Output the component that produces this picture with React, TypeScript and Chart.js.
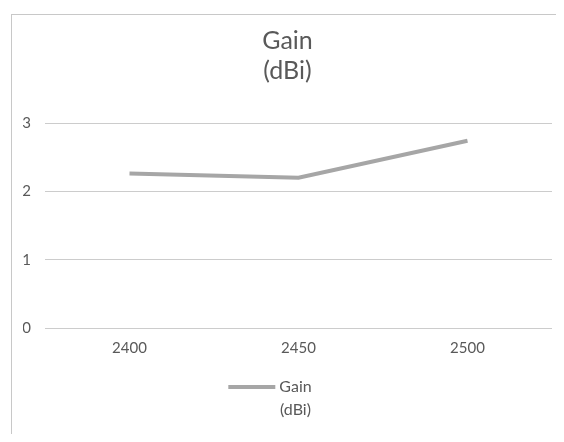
import React, { useEffect, useRef } from "react";
import { Chart, registerables } from "chart.js";

Chart.register(...registerables);

const categories = ["2400", "2450", "2500"];
const gainValues = [2.26, 2.2, 2.74];
const seriesLabel = ["Gain", "(dBi)"];
const titleLines = ["Gain", "(dBi)"];
const yTicks = [0, 1, 2, 3];

const FONT = "Lato, 'Open Sans', sans-serif";
const TEXT = "#595959";
const LINE = "#a6a6a6";

const legendPlugin = {
  id: "multiLegend",
  afterDraw(chart: any) {
    const ctx = chart.ctx;
    const ds = chart.data.datasets[0];
    const lines: string[] = ds.label.split("\n");
    const cx = (chart.chartArea.left + chart.chartArea.right) / 2;
    const y0 = chart.height - 47;
    ctx.save();
    ctx.font = `16px ${FONT}`;
    ctx.fillStyle = TEXT;
    ctx.textBaseline = "middle";
    ctx.textAlign = "center";
    const textCx = cx - 3;
    lines.forEach((l, i) => ctx.fillText(l, textCx, y0 + i * 23));
    const w = ctx.measureText(lines[0]).width;
    ctx.strokeStyle = ds.borderColor;
    ctx.lineWidth = 4;
    ctx.beginPath();
    ctx.moveTo(textCx - w / 2 - 51, y0);
    ctx.lineTo(textCx - w / 2 - 4, y0);
    ctx.stroke();
    ctx.restore();
  },
};

export default function App() {
  const ref = useRef<HTMLCanvasElement>(null);
  useEffect(() => {
    if (!ref.current) return;
    const chart = new Chart(ref.current, {
      type: "line",
      data: {
        labels: categories,
        datasets: [
          {
            label: seriesLabel.join("\n"),
            data: gainValues,
            borderColor: LINE,
            backgroundColor: LINE,
            borderWidth: 4,
            pointRadius: 0,
            tension: 0,
          },
        ],
      },
      options: {
        animation: false,
        responsive: false,
        devicePixelRatio: 1,
        layout: { padding: { top: 2, left: 11, right: 12, bottom: 74 } },
        plugins: {
          legend: { display: false },
          tooltip: { enabled: false },
          title: {
            display: true,
            text: titleLines,
            color: TEXT,
            font: { family: FONT, size: 25, weight: "normal", lineHeight: 1.2 },
            padding: { top: 9, bottom: 37 },
          },
        },
        scales: {
          x: {
            offset: true,
            grid: { display: false },
            border: { display: false },
            ticks: {
              color: TEXT,
              font: { family: FONT, size: 15 },
              padding: 3,
              maxRotation: 0,
            },
          },
          y: {
            min: 0,
            max: 3,
            afterBuildTicks: (axis: any) => {
              axis.ticks = yTicks.map((v) => ({ value: v }));
            },
            afterFit: (axis: any) => {
              axis.width = 22;
            },
            grid: { color: "#cccccc", lineWidth: 1, drawTicks: false },
            border: { display: false },
            ticks: {
              color: TEXT,
              font: { family: FONT, size: 15 },
              padding: 14,
            },
          },
        },
      },
      plugins: [legendPlugin],
    });
    return () => chart.destroy();
  }, []);
  return (
    <div
      style={{
        position: "relative",
        width: 553,
        height: 420,
        borderLeft: "1px solid #c8c8c8",
        borderTop: "1px solid #c8c8c8",
        marginLeft: 3,
        marginTop: 6,
        boxSizing: "border-box",
      }}
    >
      <canvas ref={ref} width={552} height={419} style={{ display: "block" }} />
    </div>
  );
}
